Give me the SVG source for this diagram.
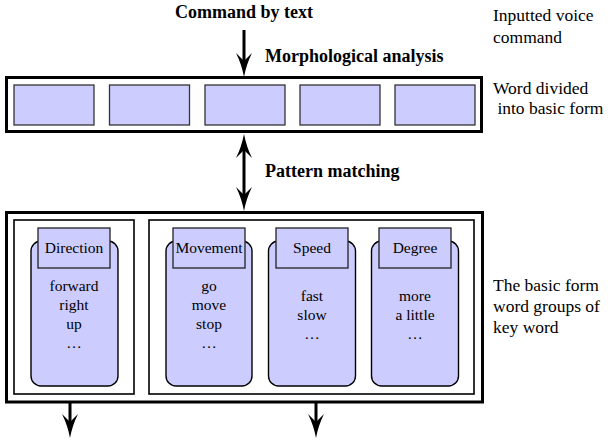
<svg xmlns="http://www.w3.org/2000/svg" width="610" height="446" viewBox="0 0 610 446">
  <style>
    .frame { fill: #ffffff; stroke: #000000; stroke-width: 3; }
    .group { fill: #ffffff; stroke: #000000; stroke-width: 1.6; }
    .cell { fill: #ccccff; stroke: #333333; stroke-width: 1.3; }
    .pill { fill: #ccccff; stroke: #000000; stroke-width: 1.4; }
    .tag { fill: #ccccff; stroke: #222222; stroke-width: 1.3; }
    .wire { stroke: #000000; stroke-width: 3; fill: none; }
    text { font-family: "Liberation Serif", "DejaVu Serif", serif; fill: #000; }
    .bold { font-weight: bold; font-size: 18px; }
    .note { font-weight: normal; font-size: 17.5px; }
    .word { font-weight: normal; font-size: 15.5px; text-anchor: middle; }
  </style>
  <defs>
    <marker id="head" viewBox="0 0 24 16" refX="8" refY="8" markerWidth="24" markerHeight="16" markerUnits="userSpaceOnUse" orient="auto-start-reverse">
      <path d="M24,8 Q11,5.5 0,0 L8,8 L0,16 Q11,10.5 24,8 Z" fill="#000"/>
    </marker>
  </defs>

  <!-- labels -->
  <text class="bold" x="244" y="18" text-anchor="middle">Command by text</text>
  <text class="bold" x="265" y="62">Morphological analysis</text>
  <text class="bold" x="265" y="177">Pattern matching</text>

  <text class="note" x="493" y="21">Inputted voice</text>
  <text class="note" x="493" y="43">command</text>
  <text class="note" x="493" y="94">Word divided</text>
  <text class="note" x="493" y="114" xml:space="preserve"> into basic form</text>
  <text class="note" x="493" y="291">The basic form</text>
  <text class="note" x="493" y="312">word groups of</text>
  <text class="note" x="493" y="333">key word</text>

  <!-- word segmentation row -->
  <g id="words">
    <rect class="frame" x="6.5" y="77.5" width="475" height="54"/>
    <rect class="cell" x="14" y="85" width="80" height="40"/>
    <rect class="cell" x="109.5" y="85" width="80" height="40"/>
    <rect class="cell" x="205" y="85" width="80" height="40"/>
    <rect class="cell" x="300" y="85" width="80" height="40"/>
    <rect class="cell" x="395" y="85" width="80" height="40"/>
  </g>

  <!-- keyword groups -->
  <g id="keywords">
    <rect class="frame" x="6.5" y="212.5" width="476" height="189.5"/>
    <rect class="group" x="14" y="220" width="120" height="174"/>
    <rect class="group" x="149" y="220" width="325" height="174"/>
  </g>

  <g id="direction">
    <rect class="pill" x="31" y="241" width="87" height="145" rx="10"/>
    <rect class="tag" x="38" y="228" width="72" height="40"/>
    <text class="word" x="74" y="253">Direction</text>
    <text class="word" x="74" y="291">forward</text>
    <text class="word" x="74" y="310">right</text>
    <text class="word" x="74" y="329">up</text>
    <text class="word" x="74" y="348">…</text>
  </g>

  <g id="movement">
    <rect class="pill" x="166" y="241" width="86" height="145" rx="10"/>
    <rect class="tag" x="173" y="228" width="72" height="40"/>
    <text class="word" x="209" y="253">Movement</text>
    <text class="word" x="209" y="291">go</text>
    <text class="word" x="209" y="310">move</text>
    <text class="word" x="209" y="329">stop</text>
    <text class="word" x="209" y="348">…</text>
  </g>

  <g id="speed">
    <rect class="pill" x="268.5" y="241" width="87" height="145" rx="10"/>
    <rect class="tag" x="276" y="228" width="72" height="40"/>
    <text class="word" x="312" y="253">Speed</text>
    <text class="word" x="312" y="301">fast</text>
    <text class="word" x="312" y="320">slow</text>
    <text class="word" x="312" y="339">…</text>
  </g>

  <g id="degree">
    <rect class="pill" x="371.5" y="241" width="87" height="145" rx="10"/>
    <rect class="tag" x="379" y="228" width="72" height="40"/>
    <text class="word" x="415" y="253">Degree</text>
    <text class="word" x="415" y="301">more</text>
    <text class="word" x="415" y="320">a little</text>
    <text class="word" x="415" y="339">…</text>
  </g>

  <!-- connectors -->
  <g id="connectors">
    <line class="wire" x1="244" y1="30" x2="244" y2="61" marker-end="url(#head)"/>
    <line class="wire" x1="244" y1="150" x2="244" y2="195" marker-start="url(#head)" marker-end="url(#head)"/>
    <line class="wire" x1="70" y1="402" x2="70" y2="422" marker-end="url(#head)"/>
    <line class="wire" x1="316" y1="402" x2="316" y2="422" marker-end="url(#head)"/>
  </g>
</svg>
